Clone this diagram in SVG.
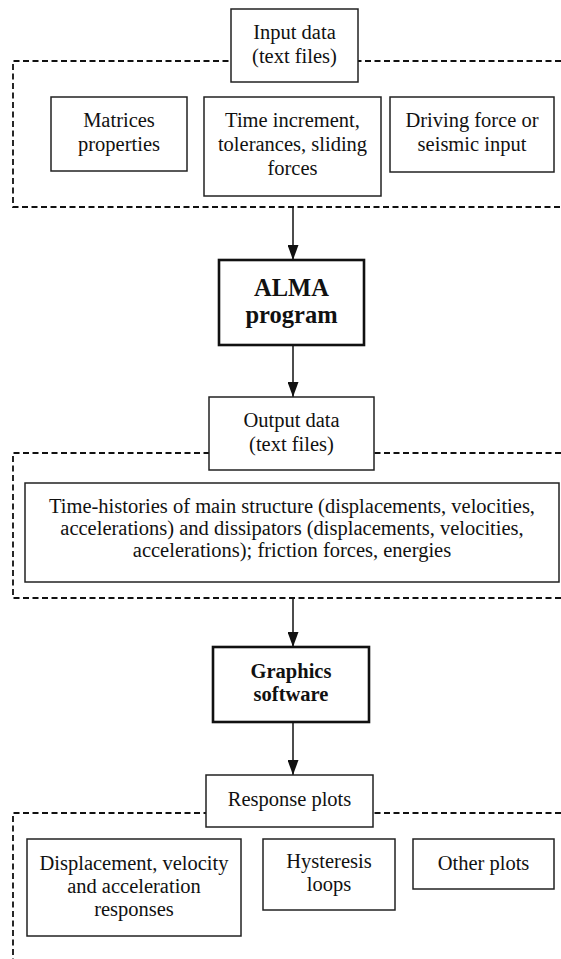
<svg xmlns="http://www.w3.org/2000/svg" width="561" height="959" viewBox="0 0 561 959">
  <style>
    .frame { fill: none; stroke: #111; stroke-width: 1.8; stroke-dasharray: 6 3.5; }
    .box { fill: #fff; stroke: #222; stroke-width: 1.5; }
    .bold-box { fill: #fff; stroke: #111; stroke-width: 2.6; }
    .link { stroke: #111; stroke-width: 1.5; fill: none; }
    text { font-family: "Liberation Serif", "Times New Roman", serif; font-size: 20.5px; fill: #111; text-anchor: middle; }
    .strong { font-weight: bold; }
    .big { font-size: 24.5px; }
  </style>
  <defs>
    <marker id="arrowhead" markerWidth="15" markerHeight="11" refX="15" refY="5.5" orient="auto" markerUnits="userSpaceOnUse" viewBox="0 0 15 11">
      <path d="M0,0 L15,5.5 L0,11 Z" fill="#111"/>
    </marker>
  </defs>

  <!-- dashed group frames -->
  <g id="frames">
    <path class="frame" d="M561,61 H13 V207 H561"/>
    <path class="frame" d="M561,453 H13 V598 H561"/>
    <path class="frame" d="M561,813 H13 V959"/>
  </g>

  <!-- connectors -->
  <g id="connectors">
    <line class="link" x1="293" y1="207" x2="293" y2="260" marker-end="url(#arrowhead)"/>
    <line class="link" x1="293" y1="345" x2="293" y2="397" marker-end="url(#arrowhead)"/>
    <line class="link" x1="293" y1="598" x2="293" y2="647" marker-end="url(#arrowhead)"/>
    <line class="link" x1="293" y1="722" x2="293" y2="775" marker-end="url(#arrowhead)"/>
  </g>

  <g id="input-data">
    <rect class="box" x="231" y="9" width="127" height="73"/>
    <text x="294.5" y="39">Input data</text>
    <text x="294.5" y="63">(text files)</text>
  </g>

  <g id="matrices">
    <rect class="box" x="51" y="97" width="136" height="74"/>
    <text x="119" y="127">Matrices</text>
    <text x="119" y="151">properties</text>
  </g>

  <g id="time-increment">
    <rect class="box" x="204" y="97" width="177" height="99"/>
    <text x="292.5" y="127">Time increment,</text>
    <text x="292.5" y="151">tolerances, sliding</text>
    <text x="292.5" y="175">forces</text>
  </g>

  <g id="driving-force">
    <rect class="box" x="390" y="97" width="164" height="75"/>
    <text x="472" y="127">Driving force or</text>
    <text x="472" y="151">seismic input</text>
  </g>

  <g id="alma">
    <rect class="bold-box" x="219" y="260" width="145" height="85"/>
    <text class="strong big" x="291.5" y="296">ALMA</text>
    <text class="strong big" x="291.5" y="323">program</text>
  </g>

  <g id="output-data">
    <rect class="box" x="209" y="397" width="165" height="73"/>
    <text x="291.5" y="427">Output data</text>
    <text x="291.5" y="451">(text files)</text>
  </g>

  <g id="time-histories">
    <rect class="box" x="25" y="483" width="534" height="99"/>
    <text x="292" y="513">Time-histories of main structure (displacements, velocities,</text>
    <text x="292" y="535">accelerations) and dissipators (displacements, velocities,</text>
    <text x="292" y="557">accelerations); friction forces, energies</text>
  </g>

  <g id="graphics">
    <rect class="bold-box" x="213" y="647" width="156" height="75"/>
    <text class="strong" x="291" y="678">Graphics</text>
    <text class="strong" x="291" y="701">software</text>
  </g>

  <g id="response-plots">
    <rect class="box" x="206" y="775" width="167" height="52"/>
    <text x="289.5" y="806">Response plots</text>
  </g>

  <g id="displacement">
    <rect class="box" x="27" y="839" width="214" height="97"/>
    <text x="134" y="870">Displacement, velocity</text>
    <text x="134" y="893">and acceleration</text>
    <text x="134" y="916">responses</text>
  </g>

  <g id="hysteresis">
    <rect class="box" x="263" y="839" width="132" height="71"/>
    <text x="329" y="868">Hysteresis</text>
    <text x="329" y="891">loops</text>
  </g>

  <g id="other-plots">
    <rect class="box" x="413" y="839" width="141" height="50"/>
    <text x="483.5" y="870">Other plots</text>
  </g>
</svg>
